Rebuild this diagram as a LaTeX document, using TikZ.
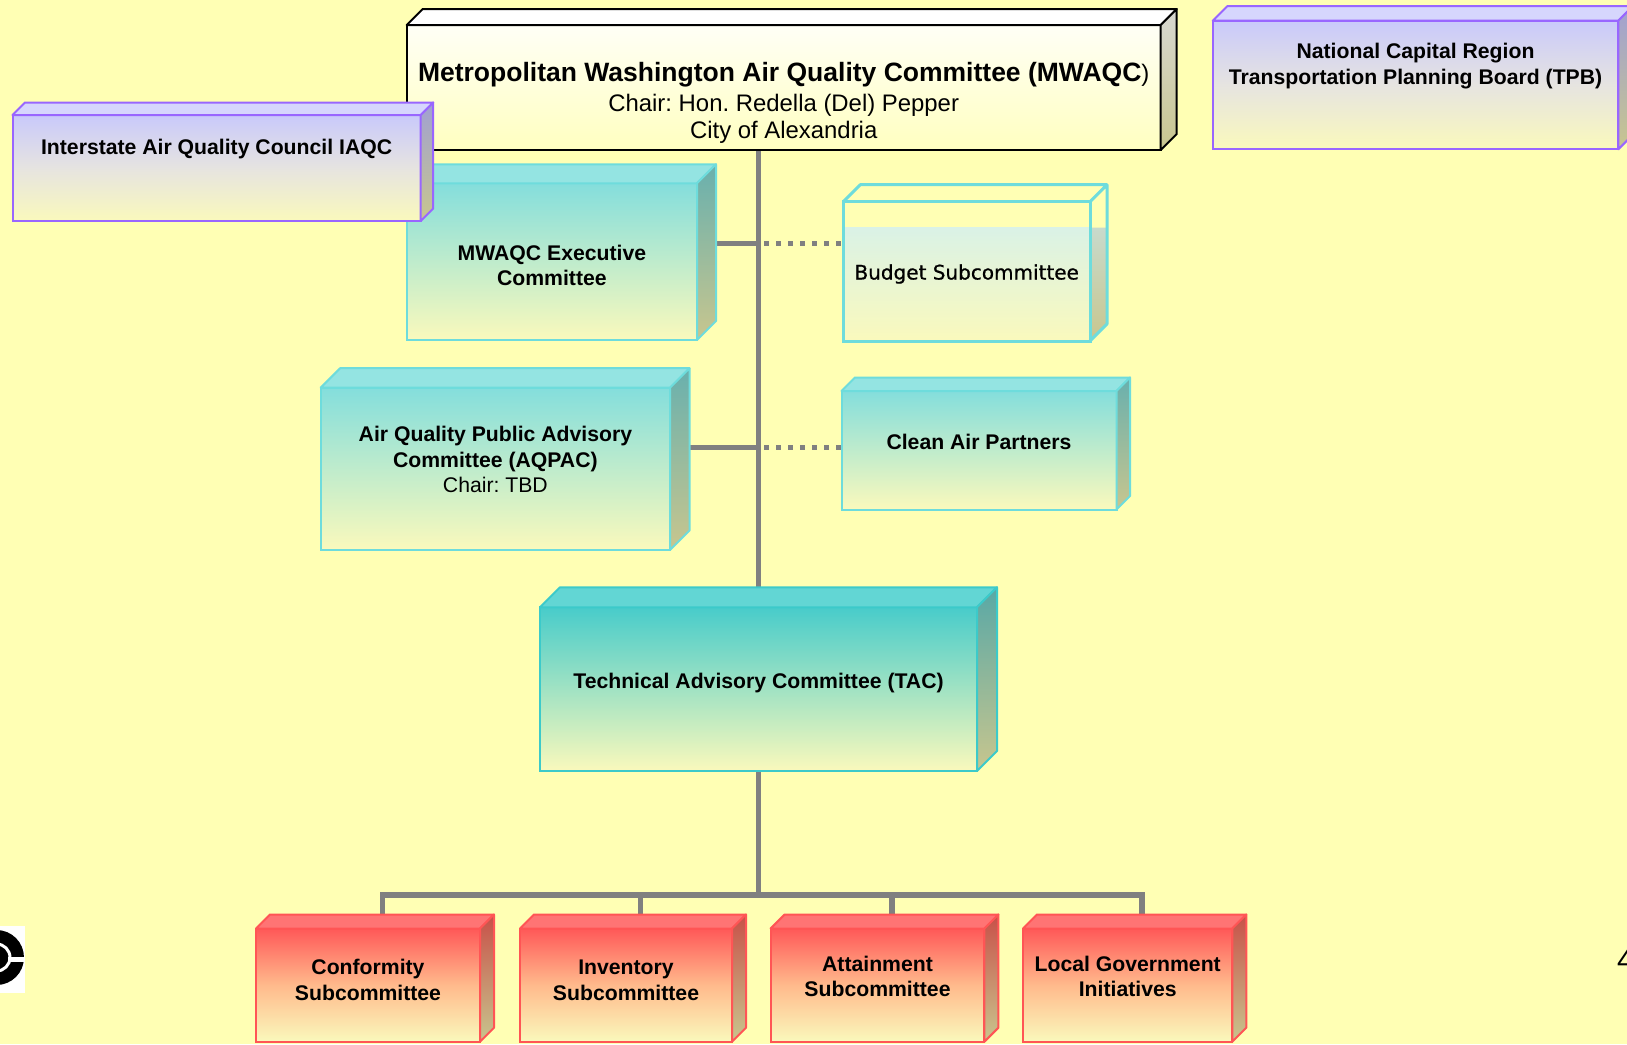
\documentclass[tikz,border=0pt]{standalone}
\usepackage{fontspec}
\setmainfont{Liberation Sans}
\newfontfamily\budgetfont{DejaVu Sans}[FakeBold=0.8]
\usetikzlibrary{calc}
\frenchspacing

\definecolor{bgyellow}{HTML}{FFFFB4}
\definecolor{linegray}{HTML}{808080}
\definecolor{paleyellow}{HTML}{FAF9BC}
\definecolor{sidebottom}{HTML}{C8C68E}
\definecolor{mwtop}{HTML}{FFFFF6}
\definecolor{mwbottom}{HTML}{FFFFC0}
\definecolor{mwside}{HTML}{D8D8D2}
\definecolor{cyanline}{HTML}{6EDCDC}
\definecolor{cyantop}{HTML}{84DEDC}
\definecolor{cyanlid}{HTML}{94E4E2}
\definecolor{cyanside}{HTML}{68B0AE}
\definecolor{tealline}{HTML}{3CCACA}
\definecolor{tealtop}{HTML}{48CCCA}
\definecolor{teallid}{HTML}{62D6D4}
\definecolor{tealside}{HTML}{58A8A6}
\definecolor{budgettop}{HTML}{DAF2E6}
\definecolor{budgetside}{HTML}{C8DACC}
\definecolor{purpleline}{HTML}{9966FF}
\definecolor{purpletop}{HTML}{C9C9FB}
\definecolor{purplemid}{HTML}{E6E4E0}
\definecolor{purplelid}{HTML}{D6D6FD}
\definecolor{purpleside}{HTML}{A0A0D2}
\definecolor{redline}{HTML}{FF5555}
\definecolor{redtop}{HTML}{FF5858}
\definecolor{redmid}{HTML}{FFBA8C}
\definecolor{redlid}{HTML}{FF7474}
\definecolor{redside}{HTML}{C85048}

\pgfdeclarelayer{bg}
\pgfdeclarelayer{lines}
\pgfsetlayers{bg,lines,main}

\tikzset{
  frontface/.style={anchor=north west, inner sep=0pt, outer sep=0pt, line width=2pt},
  mwbox/.style={frontface, draw=black, top color=mwtop, bottom color=mwbottom},
  cyanbox/.style={frontface, draw=cyanline, top color=cyantop, bottom color=paleyellow},
  tealbox/.style={frontface, draw=tealline, top color=tealtop, bottom color=paleyellow},
  purplebox/.style={frontface, draw=purpleline, top color=purpletop, bottom color=paleyellow, middle color=purplemid},
  redbox/.style={frontface, draw=redline, top color=redtop, bottom color=paleyellow, middle color=redmid},
  conn/.style={draw=linegray, line width=5.5pt},
  dotconn/.style={draw=linegray, line width=5pt, dash pattern=on 5pt off 7pt},
  boxtext/.style={align=center, inner sep=0pt, font=\fontsize{21.2}{25.5}\selectfont\bfseries},
  titletext/.style={align=center, inner sep=0pt, font=\fontsize{23.9}{27}\selectfont},
}

% lid and right side of a box whose front face is the node #1
\newcommand\cubeside[6]{%
  \filldraw[draw=#3, fill=#4, line width=2pt, line join=round] (#1.north west) -- ++(#2,-#2) -- ([shift={(#2,-#2)}]#1.north east) -- (#1.north east) -- cycle;
  \shadedraw[draw=#3, top color=#5, bottom color=#6, line width=2pt, line join=round] (#1.north east) -- ++(#2,-#2) -- ([shift={(#2,-#2)}]#1.south east) -- (#1.south east) -- cycle;
}

\begin{document}
\begin{tikzpicture}[x=1pt,y=-1pt]
	%%%%% BACKGROUND %%%%%
	\begin{pgfonlayer}{bg}
		\fill[bgyellow] (0,0) rectangle (1627,1044);
	\end{pgfonlayer}
	\useasboundingbox (0,0) rectangle (1627,1044);
	
	%%%%% BOXES %%%%%
	\node[mwbox, minimum width=754pt, minimum height=125pt] (mwaqc) at (406.7,25) {};
	\cubeside{mwaqc}{16}{black}{white}{mwside}{sidebottom}
	
	\node[cyanbox, minimum width=290.3pt, minimum height=156.7pt] (exec) at (406.7,183.3) {};
	\cubeside{exec}{19}{cyanline}{cyanlid}{cyanside}{sidebottom}
	
	\node[purplebox, minimum width=408.2pt, minimum height=106pt] (iaqc) at (12.5,115) {};
	\cubeside{iaqc}{12.5}{purpleline}{purplelid}{purpleside}{sidebottom}
	
	\node[purplebox, minimum width=405.6pt, minimum height=128.6pt] (tpb) at (1212.7,20.7) {};
	\cubeside{tpb}{14.5}{purpleline}{purplelid}{purpleside}{sidebottom}
	
	% budget box is open at the top
	\shade[top color=budgettop, bottom color=paleyellow] (843.3,227.7) rectangle (1090,341);
	\shade[top color=budgetside, bottom color=sidebottom] (1090,227.7) -- (1107.3,227.7) -- (1107.3,324) -- (1090,341) -- cycle;
	\node[frontface, draw=cyanline, line width=3pt, minimum width=246.7pt, minimum height=139.3pt] (bud) at (843.3,201.7) {};
	\draw[cyanline, line width=3pt, line join=round] (bud.north west) -- ++(17,-17) -- ([shift={(17,-17)}]bud.north east) -- ([shift={(17,-17)}]bud.south east) -- (bud.south east) (bud.north east) -- ++(17,-17);
	
	\node[cyanbox, minimum width=349.3pt, minimum height=162.3pt] (aqpac) at (320.7,387.7) {};
	\cubeside{aqpac}{19.5}{cyanline}{cyanlid}{cyanside}{sidebottom}
	
	\node[cyanbox, minimum width=275pt, minimum height=118.5pt] (cap) at (841.5,391) {};
	\cubeside{cap}{13.5}{cyanline}{cyanlid}{cyanside}{sidebottom}
	
	\node[tealbox, minimum width=437pt, minimum height=163.7pt] (tac) at (540,607.3) {};
	\cubeside{tac}{20}{tealline}{teallid}{tealside}{sidebottom}
	
	\foreach \b/\x/\w in {conf/256/224, inv/520/212, att/770.6/213.8, lgi/1023/209.3}{
		\node[redbox, minimum width=\w pt, minimum height=113.2pt] (\b) at (\x,928.5) {};
		\cubeside{\b}{14}{redline}{redlid}{redside}{sidebottom}
	}
	
	%%%%% LINES %%%%%
	\begin{pgfonlayer}{lines}
		\path (tac.north |- exec.north) ++(0,60) coordinate (j1);
		\path (tac.north |- aqpac.north) ++(0,60) coordinate (j2);
		\path (tac.south) ++(0,124) coordinate (bus);
		
		\draw[conn] (tac.north) -- (tac.north |- mwaqc.south);
		\draw[conn] (j1) -- (j1 -| exec.east);
		\draw[conn] (j2) -- (j2 -| aqpac.east);
		\draw[dotconn] ([xshift=5.5pt]j1) -- (j1 -| bud.west);
		\draw[dotconn] ([xshift=5.5pt]j2) -- (j2 -| cap.west);
		
		\draw[conn] (tac.south) -- (bus);
		\foreach \b in {conf,inv,att,lgi}
			\draw[conn] ([xshift=14.5pt]\b.north) |- (bus);
	\end{pgfonlayer}
	
	%%%%% TEXT %%%%%
	\node[titletext] (mwaqc-t) at (783.7,102.9) {{\fontsize{26.5}{30}\selectfont\bfseries Metropolitan Washington Air Quality Committee (MWAQC}{)}\\[3pt] Chair: Hon. Redella (Del) Pepper\\ City of Alexandria};
	\node[boxtext] (iaqc-t) at (216.6,149) {Interstate Air Quality Council IAQC};
	\node[boxtext] (tpb-t) at (1415.5,66.3) {National Capital Region\\ Transportation Planning Board (TPB)};
	\node[boxtext] (exec-t) at (551.9,265.5) {MWAQC Executive\\ Committee};
	\node[inner sep=0pt, font=\budgetfont\fontsize{20}{24}\selectfont] (bud-t) at (966.7,274) {Budget Subcommittee};
	\node[boxtext] (aqpac-t) at (495.4,459.5) {Air Quality Public Advisory\\ Committee (AQPAC)\\ {\mdseries Chair: TBD}};
	\node[boxtext] (cap-t) at (979,442) {Clean Air Partners};
	\node[boxtext] (tac-t) at (758.5,683.5) {Technical Advisory Committee (TAC)};
	\node[boxtext] (conf-t) at (368,980.1) {Conformity\\ Subcommittee};
	\node[boxtext] (inv-t) at (626,980.1) {Inventory\\ Subcommittee};
	\node[boxtext] (att-t) at (877.5,976.4) {Attainment\\ Subcommittee};
	\node[boxtext] (lgi-t) at (1127.7,976.4) {Local Government\\ Initiatives};
	
	%%%%% LOGO AND PAGE NUMBER %%%%%
	\fill[white] (0,926) rectangle (25,993);
	\begin{scope}
		\clip (0,926) rectangle (25,993);
		\fill[black] (-3.5,957.5) circle (27.5pt);
		\draw[white, line width=3pt] (-3.5,957.5) circle (13.5pt);
		\fill[white] (8,957) rectangle (25,962);
	\end{scope}
	\node[anchor=base west, inner sep=0pt, font=\fontsize{30}{36}\selectfont] (pagenum) at (1617,970) {4};
\end{tikzpicture}
\end{document}
